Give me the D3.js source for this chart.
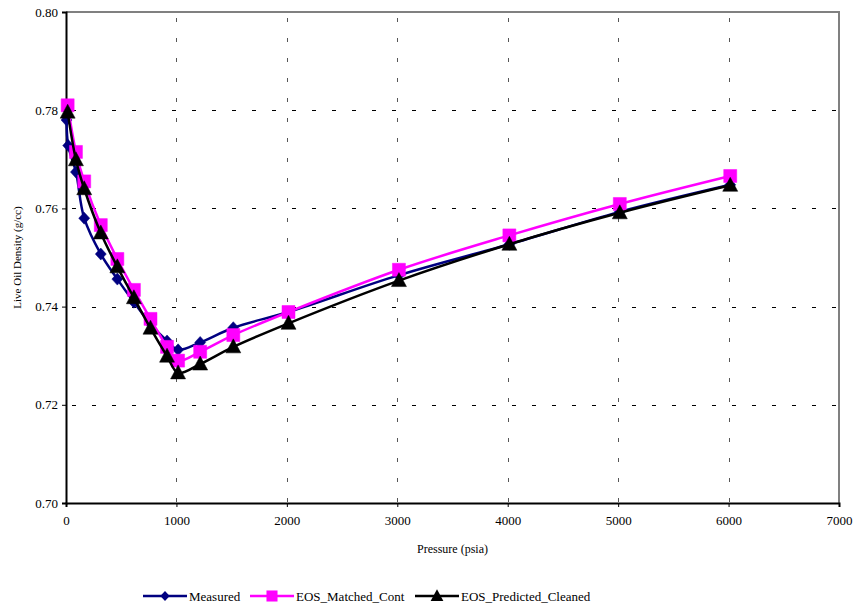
<!DOCTYPE html>
<html>
<head>
<meta charset="utf-8">
<script src="https://cdn.jsdelivr.net/npm/d3@7"></script>
<style>
  body { margin: 0; background: #fff; }
  svg { display: block; font-family: "Liberation Serif", "Times New Roman", serif; }
</style>
</head>
<body>
<svg id="chart" width="857" height="608"></svg>
<script>
// Live oil density versus pressure: lab measurements and two EOS runs
const measuredPressure = [5, 20, 90, 165, 315, 465, 615, 765, 915, 1015, 1215, 1515, 2015, 3015, 4015, 5015, 6015];
const measuredDensity  = [0.7780, 0.7728, 0.7674, 0.7580, 0.7507, 0.7456, 0.7409, 0.7365, 0.7330, 0.7312, 0.7327, 0.7357, 0.7389, 0.7464, 0.7527, 0.7593, 0.7648];

const eosPressure       = [15, 90, 165, 315, 465, 615, 765, 915, 1015, 1215, 1515, 2015, 3015, 4015, 5015, 6015];
const matchedDensity    = [0.7810, 0.7715, 0.7655, 0.7566, 0.7497, 0.7434, 0.7375, 0.7318, 0.7290, 0.7308, 0.7342, 0.7389, 0.7475, 0.7545, 0.7609, 0.7666];
const predictedDensity  = [0.7796, 0.7699, 0.7640, 0.7550, 0.7481, 0.7418, 0.7356, 0.7299, 0.7265, 0.7283, 0.7318, 0.7366, 0.7453, 0.7527, 0.7591, 0.7647];

const xTicks = [0, 1000, 2000, 3000, 4000, 5000, 6000, 7000];
const yTicks = [0.70, 0.72, 0.74, 0.76, 0.78, 0.80];

const seriesNames = ["Measured", "EOS_Matched_Cont", "EOS_Predicted_Cleaned"];

const series = [
  { name: seriesNames[0], px: measuredPressure, py: measuredDensity, color: "#000080", marker: "diamond" },
  { name: seriesNames[1], px: eosPressure, py: matchedDensity, color: "#FF00FF", marker: "square" },
  { name: seriesNames[2], px: eosPressure, py: predictedDensity, color: "#000000", marker: "triangle" }
];

const svg = d3.select("#chart");
const plot = { left: 66, right: 839, top: 12, bottom: 503 };

const x = d3.scaleLinear().domain([0, 7000]).range([plot.left, plot.right]);
const y = d3.scaleLinear().domain([0.70, 0.80]).range([plot.bottom, plot.top]);

// dashed grid
svg.append("g").selectAll("line")
  .data(yTicks.slice(1, -1)).join("line")
  .attr("x1", plot.left + 6).attr("x2", plot.right)
  .attr("y1", d => Math.round(y(d)) + 0.5).attr("y2", d => Math.round(y(d)) + 0.5)
  .attr("stroke", "#000").attr("stroke-width", 1).attr("stroke-dasharray", "4,16");
svg.append("g").selectAll("line")
  .data(xTicks.slice(1, -1)).join("line")
  .attr("x1", d => Math.round(x(d)) + 0.5).attr("x2", d => Math.round(x(d)) + 0.5)
  .attr("y1", plot.top + 6).attr("y2", plot.bottom)
  .attr("stroke", "#555").attr("stroke-width", 1).attr("stroke-dasharray", "4,16");

// plot frame (top and right in grey)
svg.append("path")
  .attr("d", `M${plot.left},${plot.top}H${plot.right}V${plot.bottom}`)
  .attr("fill", "none").attr("stroke", "#808080").attr("stroke-width", 2);

// axes
const yAxis = svg.append("g").attr("transform", `translate(${plot.left},0)`)
  .call(d3.axisLeft(y).tickValues(yTicks).tickFormat(d3.format(".2f")).tickSize(4).tickPadding(4));
const xAxis = svg.append("g").attr("transform", `translate(0,${plot.bottom})`)
  .call(d3.axisBottom(x).tickValues(xTicks).tickFormat(d3.format("d")).tickSize(4).tickPadding(9));
[yAxis, xAxis].forEach(g => {
  g.attr("font-family", null);
  g.select(".domain").attr("stroke", "#000").attr("stroke-width", 2);
  g.selectAll(".tick line").attr("stroke", "#000");
  g.selectAll("text").attr("font-family", "Liberation Serif, Times New Roman, serif")
    .attr("font-size", 13).attr("fill", "#000");
});

// axis titles
svg.append("text")
  .attr("transform", `translate(21,${(plot.top + plot.bottom) / 2}) rotate(-90)`)
  .attr("text-anchor", "middle").attr("font-size", 11).text("Live Oil Density (g/cc)");
svg.append("text")
  .attr("x", (plot.left + plot.right) / 2).attr("y", 553)
  .attr("text-anchor", "middle").attr("font-size", 12).text("Pressure (psia)");

// marker shapes
function markerPath(kind) {
  if (kind === "diamond") return "M0,-6L5.5,0L0,6L-5.5,0Z";
  if (kind === "square") return "M-6.5,-6.5H6.5V6.5H-6.5Z";
  return "M0,-8L7.5,6L-7.5,6Z";
}

const line = d3.line().curve(d3.curveCatmullRom.alpha(0.5));

series.forEach(s => {
  const pts = s.px.map((p, i) => [x(p), y(s.py[i])]);
  const g = svg.append("g");
  g.append("path").attr("d", line(pts))
    .attr("fill", "none").attr("stroke", s.color).attr("stroke-width", 2.5);
  g.selectAll("path.m").data(pts).join("path").attr("class", "m")
    .attr("transform", d => `translate(${d[0]},${d[1]})`)
    .attr("d", markerPath(s.marker))
    .attr("fill", s.color).attr("stroke", s.color).attr("stroke-width", 0.5);
});

// legend
const legendItems = [
  { s: series[0], x0: 143 },
  { s: series[1], x0: 250 },
  { s: series[2], x0: 415 }
];
const ly = 596;
legendItems.forEach(({ s, x0 }) => {
  const g = svg.append("g");
  g.append("line").attr("x1", x0).attr("x2", x0 + 44).attr("y1", ly).attr("y2", ly)
    .attr("stroke", s.color).attr("stroke-width", 2.5);
  g.append("path").attr("transform", `translate(${x0 + 22},${ly}) scale(0.85)`)
    .attr("d", markerPath(s.marker)).attr("fill", s.color);
  g.append("text").attr("x", x0 + 46).attr("y", ly + 5)
    .attr("font-size", 13).text(s.name);
});
</script>
</body>
</html>
